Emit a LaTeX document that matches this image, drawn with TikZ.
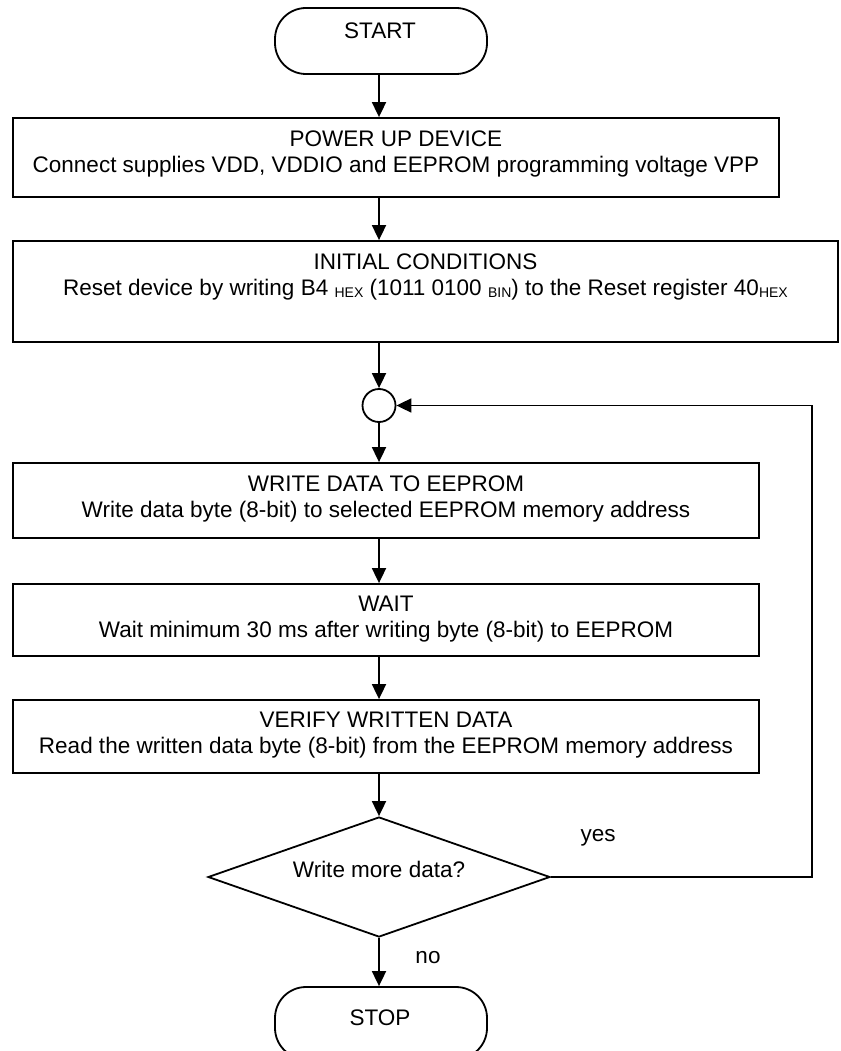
\documentclass[tikz,border=0pt]{standalone}
\usepackage{fontspec}
\setmainfont{Liberation Sans}
\usetikzlibrary{arrows.meta,shapes.geometric}
% small lowered unit tags such as HEX and BIN
\newcommand{\lowtag}[1]{\raisebox{-0.12em}{\fontsize{14}{14}\selectfont #1}}

\begin{document}
\begin{tikzpicture}[x=1pt,y=-1pt,
  every node/.style={font=\fontsize{22.5}{26}\selectfont},
  stepbox/.style={draw, line width=1.8pt, rectangle, inner sep=0pt},
  terminal/.style={draw, line width=1.8pt, rectangle, rounded corners=31pt,
    minimum width=212pt, minimum height=66pt, inner sep=0pt},
  boxtext/.style={anchor=north, align=center, inner sep=0pt},
  decision/.style={draw, line width=1.8pt, diamond, aspect=2.95, inner sep=0pt,
    minimum width=342pt, minimum height=120pt},
  joint/.style={draw, line width=1.8pt, circle, inner sep=0pt, minimum size=33pt},
  flow/.style={line width=1.8pt, -{Triangle[length=15pt,width=14pt]}},
  plain/.style={inner sep=0pt}
]
\useasboundingbox (0,0) rectangle (840,1051);
\clip (0,0) rectangle (840,1051);

% terminals
\node[terminal] (start) at (381,41) {};
\node[plain] (starttext) at (380,31) {START};

% process steps
\node[stepbox, minimum width=766pt, minimum height=79pt] (power) at (396,157.5) {};
\node[boxtext] at ([yshift=-13pt]power.north)
  {POWER UP DEVICE\\Connect supplies VDD, VDDIO and EEPROM programming voltage VPP};

\node[stepbox, minimum width=825pt, minimum height=101pt] (init) at (425.5,291.5) {};
\node[boxtext] at ([yshift=-13pt]init.north)
  {INITIAL CONDITIONS\\Reset device by writing B4 \lowtag{HEX} (1011 0100 \lowtag{BIN}) to the Reset register 40\lowtag{HEX}};

\node[joint] (loop) at (379,405.5) {};

\node[stepbox, minimum width=746pt, minimum height=75pt] (write) at (386,500.5) {};
\node[boxtext] at ([yshift=-13pt]write.north)
  {WRITE DATA TO EEPROM\\Write data byte (8-bit) to selected EEPROM memory address};

\node[stepbox, minimum width=746pt, minimum height=72pt] (wait) at (386,620) {};
\node[boxtext] at ([yshift=-13pt]wait.north)
  {WAIT\\Wait minimum 30 ms after writing byte (8-bit) to EEPROM};

\node[stepbox, minimum width=746pt, minimum height=73pt] (verify) at (386,736.5) {};
\node[boxtext] at ([yshift=-13pt]verify.north)
  {VERIFY WRITTEN DATA\\Read the written data byte (8-bit) from the EEPROM memory address};

\node[decision] (more) at (379,877) {};
\node[plain] at (379,869) {Write more data?};

\node[terminal, minimum height=72pt] (stop) at (381,1023) {};
\node[plain] (stoptext) at (380,1018) {STOP};

% connectors
\coordinate (back) at (812,0);
\draw[flow] (start.south -| loop) -- (power.north -| loop);
\draw[flow] (power.south -| loop) -- (init.north -| loop);
\draw[flow] (init.south -| loop) -- (loop.north);
\draw[flow] (loop.south) -- (write.north -| loop);
\draw[flow] (write.south -| loop) -- (wait.north -| loop);
\draw[flow] (wait.south -| loop) -- (verify.north -| loop);
\draw[flow] (verify.south -| loop) -- (more.north);
\draw[flow] (more.south) -- (stop.north -| loop);
\draw[flow] (more.east) -| (back |- loop) -- (loop.east);

% branch labels
\node[plain] at (598,838) {yes};
\node[plain] at (428,958) {no};
\end{tikzpicture}
\end{document}
